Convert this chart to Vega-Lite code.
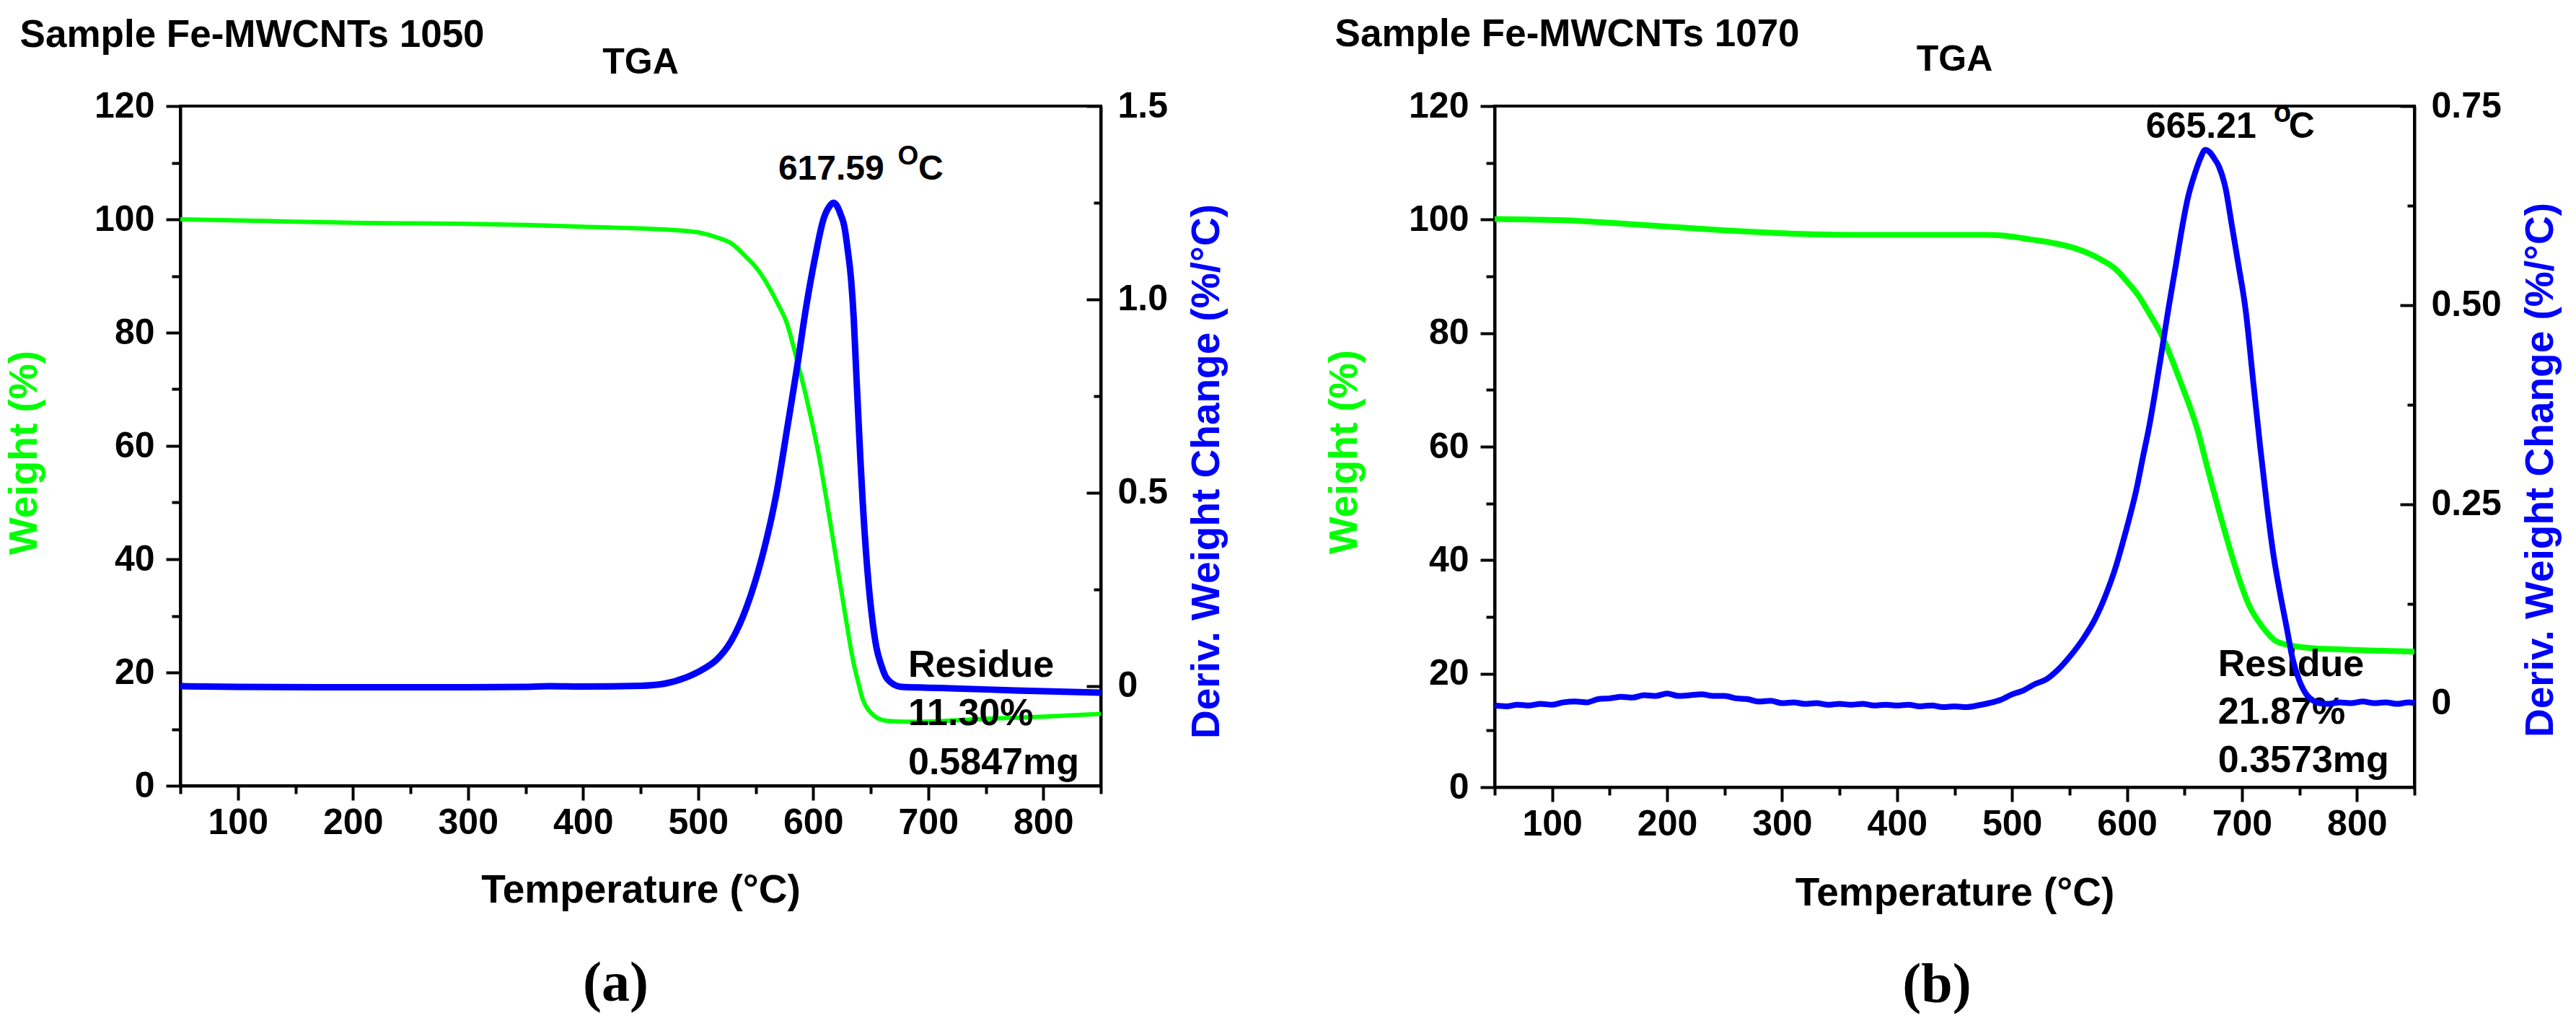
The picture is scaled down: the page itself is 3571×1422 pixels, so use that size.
{
  "$schema": "https://vega.github.io/schema/vega-lite/v6.json",
  "background": "white",
  "padding": {"left": 4, "top": 22, "right": 0, "bottom": 0},
  "spacing": 131,
  "datasets": {
    "a_w": [
      {"T": 50, "W": 100.0}, {"T": 100, "W": 99.8}, {"T": 150, "W": 99.6}, {"T": 200, "W": 99.4},
      {"T": 250, "W": 99.3}, {"T": 300, "W": 99.2}, {"T": 350, "W": 99.0}, {"T": 400, "W": 98.7},
      {"T": 450, "W": 98.4}, {"T": 480, "W": 98.1}, {"T": 500, "W": 97.7}, {"T": 515, "W": 96.9},
      {"T": 530, "W": 95.6}, {"T": 542, "W": 93.3}, {"T": 550, "W": 91.6}, {"T": 560, "W": 88.6},
      {"T": 570, "W": 84.8}, {"T": 576, "W": 82.3}, {"T": 586, "W": 75.1}, {"T": 594, "W": 68.6},
      {"T": 600, "W": 63.2}, {"T": 604, "W": 59.3}, {"T": 612, "W": 50.0}, {"T": 620, "W": 40.0},
      {"T": 628, "W": 30.0}, {"T": 635, "W": 21.8}, {"T": 640, "W": 17.6}, {"T": 643, "W": 15.3},
      {"T": 648, "W": 13.4}, {"T": 654, "W": 12.2}, {"T": 660, "W": 11.6}, {"T": 667, "W": 11.4},
      {"T": 680, "W": 11.3}, {"T": 700, "W": 11.35}, {"T": 750, "W": 11.8}, {"T": 800, "W": 12.2},
      {"T": 850, "W": 12.7}
    ],
    "a_d": [
      {"T": 50, "D": 0.0}, {"T": 100, "D": -0.002}, {"T": 200, "D": -0.003}, {"T": 300, "D": -0.003},
      {"T": 350, "D": -0.002}, {"T": 370, "D": 0.0}, {"T": 400, "D": -0.001}, {"T": 450, "D": 0.001},
      {"T": 470, "D": 0.006}, {"T": 490, "D": 0.023}, {"T": 505, "D": 0.045}, {"T": 516, "D": 0.068},
      {"T": 529, "D": 0.118}, {"T": 542, "D": 0.203}, {"T": 555, "D": 0.327}, {"T": 568, "D": 0.497},
      {"T": 578, "D": 0.677}, {"T": 586, "D": 0.824}, {"T": 594, "D": 0.982}, {"T": 601.5, "D": 1.106},
      {"T": 609, "D": 1.208}, {"T": 614, "D": 1.24}, {"T": 617.6, "D": 1.25}, {"T": 620, "D": 1.245},
      {"T": 624, "D": 1.219}, {"T": 627, "D": 1.19}, {"T": 630, "D": 1.129}, {"T": 633, "D": 1.05},
      {"T": 635.3, "D": 0.948}, {"T": 637, "D": 0.84}, {"T": 639.2, "D": 0.7}, {"T": 641, "D": 0.59},
      {"T": 643.1, "D": 0.474}, {"T": 647, "D": 0.305}, {"T": 652, "D": 0.158}, {"T": 655, "D": 0.1},
      {"T": 659, "D": 0.056}, {"T": 663, "D": 0.025}, {"T": 667, "D": 0.011}, {"T": 677, "D": -0.002},
      {"T": 700, "D": -0.004}, {"T": 724, "D": -0.006}, {"T": 776, "D": -0.011}, {"T": 850, "D": -0.017}
    ],
    "b_w": [
      {"T": 50, "W": 100.1}, {"T": 80, "W": 100.0}, {"T": 121, "W": 99.8}, {"T": 160, "W": 99.3},
      {"T": 205, "W": 98.7}, {"T": 250, "W": 98.1}, {"T": 289, "W": 97.7}, {"T": 330, "W": 97.4},
      {"T": 373, "W": 97.3}, {"T": 420, "W": 97.3}, {"T": 478, "W": 97.3}, {"T": 500, "W": 97.0},
      {"T": 516, "W": 96.5}, {"T": 535, "W": 95.9}, {"T": 554, "W": 95.0}, {"T": 577, "W": 93.0},
      {"T": 590, "W": 91.3}, {"T": 600, "W": 89.1}, {"T": 610, "W": 86.6}, {"T": 619, "W": 83.6},
      {"T": 630, "W": 79.7}, {"T": 645.6, "W": 71.9}, {"T": 660.8, "W": 63.3}, {"T": 672, "W": 54.7},
      {"T": 683.6, "W": 46.1}, {"T": 695, "W": 38.3}, {"T": 706, "W": 32.1}, {"T": 718, "W": 28.2},
      {"T": 729, "W": 25.8}, {"T": 737, "W": 25.2}, {"T": 744, "W": 24.9}, {"T": 760, "W": 24.5},
      {"T": 782, "W": 24.3}, {"T": 810, "W": 24.1}, {"T": 850, "W": 23.9}
    ],
    "b_d": [
      {"T": 50, "D": -0.003}, {"T": 60, "D": -0.004}, {"T": 70, "D": -0.002}, {"T": 80, "D": -0.003},
      {"T": 90, "D": -0.001}, {"T": 100, "D": -0.002}, {"T": 110, "D": 0.001}, {"T": 120, "D": 0.002},
      {"T": 130, "D": 0.001}, {"T": 140, "D": 0.005}, {"T": 150, "D": 0.006}, {"T": 160, "D": 0.008},
      {"T": 170, "D": 0.007}, {"T": 180, "D": 0.01}, {"T": 190, "D": 0.009}, {"T": 200, "D": 0.012},
      {"T": 210, "D": 0.009}, {"T": 220, "D": 0.01}, {"T": 230, "D": 0.011}, {"T": 240, "D": 0.009},
      {"T": 250, "D": 0.009}, {"T": 260, "D": 0.006}, {"T": 270, "D": 0.005}, {"T": 280, "D": 0.002},
      {"T": 290, "D": 0.003}, {"T": 300, "D": 0.0}, {"T": 310, "D": 0.001}, {"T": 320, "D": -0.001},
      {"T": 330, "D": 0.0}, {"T": 340, "D": -0.002}, {"T": 350, "D": -0.001}, {"T": 360, "D": -0.002},
      {"T": 370, "D": -0.001}, {"T": 380, "D": -0.003}, {"T": 390, "D": -0.002}, {"T": 400, "D": -0.003},
      {"T": 410, "D": -0.002}, {"T": 420, "D": -0.004}, {"T": 430, "D": -0.003}, {"T": 440, "D": -0.005},
      {"T": 450, "D": -0.004}, {"T": 460, "D": -0.005}, {"T": 470, "D": -0.003}, {"T": 480, "D": 0.0},
      {"T": 490, "D": 0.004}, {"T": 500, "D": 0.011}, {"T": 510, "D": 0.016}, {"T": 520, "D": 0.024},
      {"T": 530, "D": 0.03}, {"T": 540, "D": 0.042}, {"T": 550, "D": 0.058}, {"T": 562, "D": 0.081},
      {"T": 572, "D": 0.105}, {"T": 581, "D": 0.134}, {"T": 590, "D": 0.17}, {"T": 596, "D": 0.2},
      {"T": 602, "D": 0.232}, {"T": 608, "D": 0.267}, {"T": 614, "D": 0.31}, {"T": 619, "D": 0.345},
      {"T": 625, "D": 0.395}, {"T": 630, "D": 0.44}, {"T": 636, "D": 0.495}, {"T": 642, "D": 0.546},
      {"T": 648, "D": 0.598}, {"T": 653, "D": 0.635}, {"T": 659, "D": 0.665}, {"T": 664, "D": 0.685},
      {"T": 668, "D": 0.695}, {"T": 672, "D": 0.692}, {"T": 676, "D": 0.684}, {"T": 680, "D": 0.674},
      {"T": 686, "D": 0.645}, {"T": 691, "D": 0.602}, {"T": 697, "D": 0.55}, {"T": 703, "D": 0.496},
      {"T": 710, "D": 0.401}, {"T": 716, "D": 0.32}, {"T": 722, "D": 0.245}, {"T": 727, "D": 0.19},
      {"T": 733, "D": 0.139}, {"T": 739, "D": 0.094}, {"T": 744, "D": 0.056}, {"T": 750, "D": 0.028},
      {"T": 756, "D": 0.011}, {"T": 762, "D": 0.003}, {"T": 767, "D": 0.0}, {"T": 775, "D": -0.001},
      {"T": 785, "D": 0.001}, {"T": 795, "D": 0.0}, {"T": 805, "D": 0.002}, {"T": 815, "D": 0.0},
      {"T": 825, "D": 0.001}, {"T": 835, "D": -0.001}, {"T": 845, "D": 0.001}, {"T": 850, "D": 0.0}
    ]
  },
  "hconcat": [
    {
      "title": {"text": "(a)", "orient": "bottom", "font": "Liberation Serif", "fontSize": 78, "fontWeight": "bold", "anchor": "middle", "offset": 62, "dx": 0},
      "vconcat": [
        {
          "title": {"text": "Sample Fe-MWCNTs 1050", "anchor": "start", "frame": "bounds", "fontSize": 53, "offset": -16, "dx": 23},
          "vconcat": [
            {
              "title": {"text": "TGA", "fontSize": 50, "anchor": "middle", "frame": "group", "offset": 10},
              "width": 1276,
              "height": 942,
              "layer": [
                {
                  "layer": [
                    {
                      "data": {"name": "a_w"},
                      "mark": {"type": "line", "color": "#00ff00", "strokeWidth": 6, "interpolate": "monotone"},
                      "encoding": {
                        "x": {
                          "field": "T", "type": "quantitative",
                          "scale": {"domain": [50, 850], "nice": false, "zero": false},
                          "axis": {
                            "values": [50, 100, 150, 200, 250, 300, 350, 400, 450, 500, 550, 600, 650, 700, 750, 800, 850],
                            "labelExpr": "datum.value % 100 === 0 ? datum.label : ''",
                            "tickSize": {"condition": {"test": "datum.value % 100 === 0", "value": 20}, "value": 11},
                            "labelPadding": 6,
                            "title": "Temperature (°C)",
                            "titlePadding": 42
                          }
                        },
                        "y": {
                          "field": "W", "type": "quantitative",
                          "scale": {"domain": [0, 120], "nice": false},
                          "axis": {
                            "values": [0, 10, 20, 30, 40, 50, 60, 70, 80, 90, 100, 110, 120],
                            "labelExpr": "datum.value % 20 === 0 ? datum.label : ''",
                            "tickSize": {"condition": {"test": "datum.value % 20 === 0", "value": 20}, "value": 12},
                            "labelPadding": 16,
                            "title": "Weight (%)",
                            "titleColor": "#00ff00",
                            "titlePadding": 68,
                            "titleY": 480
                          }
                        }
                      }
                    },
                    {
                      "data": {"values": [{"T": 682.6, "W": 19.24, "label": "Residue\n11.30%\n0.5847mg"}]},
                      "mark": {"type": "text", "align": "left", "baseline": "alphabetic", "fontSize": 52, "lineBreak": "\n", "lineHeight": 67.5},
                      "encoding": {
                        "x": {"field": "T", "type": "quantitative", "scale": {"domain": [50, 850], "nice": false, "zero": false}},
                        "y": {"field": "W", "type": "quantitative", "scale": {"domain": [0, 120], "nice": false}},
                        "text": {"field": "label"}
                      }
                    }
                  ]
                },
                {
                  "layer": [
                    {
                      "data": {"name": "a_d"},
                      "mark": {"type": "line", "color": "#0000ff", "strokeWidth": 9, "interpolate": "monotone"},
                      "encoding": {
                        "x": {"field": "T", "type": "quantitative", "scale": {"domain": [50, 850], "nice": false, "zero": false}},
                        "y": {
                          "field": "D", "type": "quantitative",
                          "scale": {"domain": [-0.2575, 1.5], "nice": false, "zero": false},
                          "axis": {
                            "orient": "right",
                            "values": [0, 0.25, 0.5, 0.75, 1, 1.25, 1.5],
                            "labelExpr": "datum.value === 0 ? '0' : ((datum.value * 2) % 1 === 0 ? format(datum.value, '.1f') : '')",
                            "tickSize": {"condition": {"test": "(datum.value * 2) % 1 === 0", "value": -20}, "value": -10},
                            "labelPadding": 43,
                            "title": "Deriv. Weight Change (%/°C)",
                            "titleColor": "#0000ff",
                            "titleAngle": -90,
                            "titleBaseline": "top",
                            "titlePadding": 28,
                            "titleY": 506
                          }
                        }
                      }
                    },
                    {
                      "data": {"values": [{"T": 569.7, "D": 1.31, "label": "617.59"}, {"T": 691.4, "D": 1.31, "label": "C"}]},
                      "mark": {"type": "text", "align": "left", "baseline": "alphabetic", "fontSize": 48},
                      "encoding": {
                        "x": {"field": "T", "type": "quantitative", "scale": {"domain": [50, 850], "nice": false, "zero": false}},
                        "y": {"field": "D", "type": "quantitative", "scale": {"domain": [-0.2575, 1.5], "nice": false, "zero": false}},
                        "text": {"field": "label"}
                      }
                    },
                    {
                      "data": {"values": [{"T": 673.5, "D": 1.349, "label": "O"}]},
                      "mark": {"type": "text", "align": "left", "baseline": "alphabetic", "fontSize": 37},
                      "encoding": {
                        "x": {"field": "T", "type": "quantitative", "scale": {"domain": [50, 850], "nice": false, "zero": false}},
                        "y": {"field": "D", "type": "quantitative", "scale": {"domain": [-0.2575, 1.5], "nice": false, "zero": false}},
                        "text": {"field": "label"}
                      }
                    }
                  ]
                }
              ],
              "resolve": {"scale": {"y": "independent"}}
            }
          ]
        }
      ]
    },
    {
      "title": {"text": "(b)", "orient": "bottom", "font": "Liberation Serif", "fontSize": 78, "fontWeight": "bold", "anchor": "middle", "offset": 60, "dx": -8},
      "vconcat": [
        {
          "title": {"text": "Sample Fe-MWCNTs 1070", "anchor": "start", "frame": "bounds", "fontSize": 53, "offset": -19, "dx": 16},
          "vconcat": [
            {
              "title": {"text": "TGA", "fontSize": 50, "anchor": "middle", "frame": "group", "offset": 14},
              "width": 1275,
              "height": 944,
              "layer": [
                {
                  "layer": [
                    {
                      "data": {"name": "b_w"},
                      "mark": {"type": "line", "color": "#00ff00", "strokeWidth": 8, "interpolate": "monotone"},
                      "encoding": {
                        "x": {
                          "field": "T", "type": "quantitative",
                          "scale": {"domain": [50, 850], "nice": false, "zero": false},
                          "axis": {
                            "values": [50, 100, 150, 200, 250, 300, 350, 400, 450, 500, 550, 600, 650, 700, 750, 800, 850],
                            "labelExpr": "datum.value % 100 === 0 ? datum.label : ''",
                            "tickSize": {"condition": {"test": "datum.value % 100 === 0", "value": 20}, "value": 11},
                            "labelPadding": 6,
                            "title": "Temperature (°C)",
                            "titlePadding": 44
                          }
                        },
                        "y": {
                          "field": "W", "type": "quantitative",
                          "scale": {"domain": [0, 120], "nice": false},
                          "axis": {
                            "values": [0, 10, 20, 30, 40, 50, 60, 70, 80, 90, 100, 110, 120],
                            "labelExpr": "datum.value % 20 === 0 ? datum.label : ''",
                            "tickSize": {"condition": {"test": "datum.value % 20 === 0", "value": 20}, "value": 12},
                            "labelPadding": 16,
                            "title": "Weight (%)",
                            "titleColor": "#00ff00",
                            "titlePadding": 60,
                            "titleY": 479
                          }
                        }
                      }
                    },
                    {
                      "data": {"values": [{"T": 679.2, "W": 19.58, "label": "Residue\n21.87%\n0.3573mg"}]},
                      "mark": {"type": "text", "align": "left", "baseline": "alphabetic", "fontSize": 52, "lineBreak": "\n", "lineHeight": 66.5},
                      "encoding": {
                        "x": {"field": "T", "type": "quantitative", "scale": {"domain": [50, 850], "nice": false, "zero": false}},
                        "y": {"field": "W", "type": "quantitative", "scale": {"domain": [0, 120], "nice": false}},
                        "text": {"field": "label"}
                      }
                    }
                  ]
                },
                {
                  "layer": [
                    {
                      "data": {"name": "b_d"},
                      "mark": {"type": "line", "color": "#0000ff", "strokeWidth": 8, "interpolate": "monotone"},
                      "encoding": {
                        "x": {"field": "T", "type": "quantitative", "scale": {"domain": [50, 850], "nice": false, "zero": false}},
                        "y": {
                          "field": "D", "type": "quantitative",
                          "scale": {"domain": [-0.1056, 0.75], "nice": false, "zero": false},
                          "axis": {
                            "orient": "right",
                            "values": [0, 0.125, 0.25, 0.375, 0.5, 0.625, 0.75],
                            "labelExpr": "datum.value === 0 ? '0' : ((datum.value * 4) % 1 === 0 ? format(datum.value, '.2f') : '')",
                            "tickSize": {"condition": {"test": "(datum.value * 4) % 1 === 0", "value": -20}, "value": -10},
                            "labelPadding": 43,
                            "title": "Deriv. Weight Change (%/°C)",
                            "titleColor": "#0000ff",
                            "titleAngle": -90,
                            "titleBaseline": "top",
                            "titlePadding": 28,
                            "titleY": 504
                          }
                        }
                      }
                    },
                    {
                      "data": {"values": [{"T": 616.5, "D": 0.71, "label": "665.21"}, {"T": 740.7, "D": 0.71, "label": "C"}]},
                      "mark": {"type": "text", "align": "left", "baseline": "alphabetic", "fontSize": 50},
                      "encoding": {
                        "x": {"field": "T", "type": "quantitative", "scale": {"domain": [50, 850], "nice": false, "zero": false}},
                        "y": {"field": "D", "type": "quantitative", "scale": {"domain": [-0.1056, 0.75], "nice": false, "zero": false}},
                        "text": {"field": "label"}
                      }
                    },
                    {
                      "data": {"values": [{"T": 727.5, "D": 0.73, "label": "o"}]},
                      "mark": {"type": "text", "align": "left", "baseline": "alphabetic", "fontSize": 40},
                      "encoding": {
                        "x": {"field": "T", "type": "quantitative", "scale": {"domain": [50, 850], "nice": false, "zero": false}},
                        "y": {"field": "D", "type": "quantitative", "scale": {"domain": [-0.1056, 0.75], "nice": false, "zero": false}},
                        "text": {"field": "label"}
                      }
                    }
                  ]
                }
              ],
              "resolve": {"scale": {"y": "independent"}}
            }
          ]
        }
      ]
    }
  ],
  "config": {
    "font": "Liberation Sans",
    "view": {"stroke": "black", "strokeWidth": 4},
    "axis": {
      "labelFont": "Liberation Sans",
      "labelFontWeight": "bold",
      "labelFontSize": 50,
      "labelColor": "black",
      "labelOverlap": false,
      "labelFlush": false,
      "titleFont": "Liberation Sans",
      "titleFontWeight": "bold",
      "titleFontSize": 55,
      "titleColor": "black",
      "domainColor": "black",
      "domainWidth": 4,
      "tickColor": "black",
      "tickWidth": 4,
      "grid": false
    },
    "title": {"font": "Liberation Sans", "fontWeight": "bold", "color": "black"},
    "text": {"font": "Liberation Sans", "fontWeight": "bold", "color": "black"}
  }
}
